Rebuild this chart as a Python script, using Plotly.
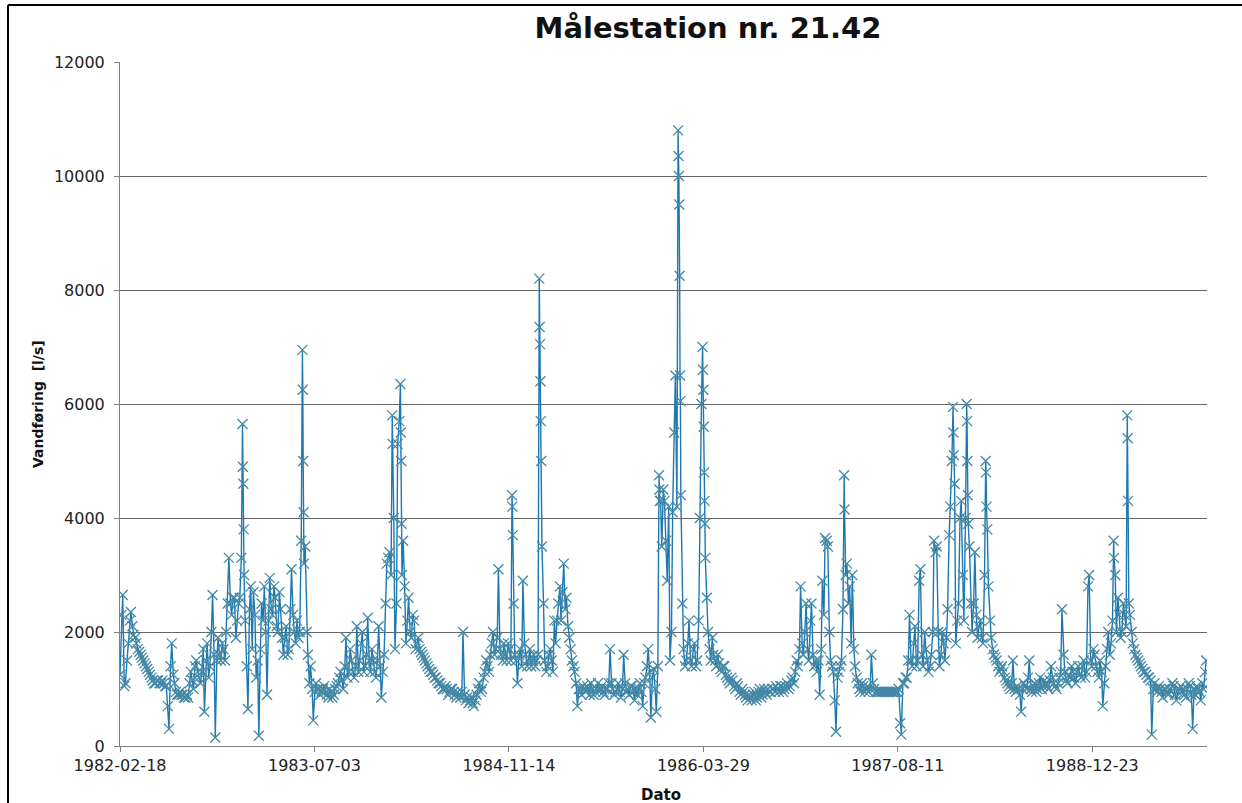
import pandas as pd
import plotly.graph_objects as go

START = "1982-02-18"
STEP_DAYS = 7
MID_OFFSET = 4

# weekly readings (l/s)
base_values = [
    1250, 2650, 1100, 1800, 2350, 1950, 1800, 1650, 1550, 1450,
    1350, 1250, 1150, 1100, 1150, 1100, 1100, 1050, 300, 1800,
    1100, 900, 950, 900, 850, 850, 1300, 1000, 1500, 1200,
    1300, 600, 1800, 1400, 2650, 150, 1900, 1500, 1700, 2000,
    3300, 2300, 2600, 2200, 2600, 5650, 2200, 650, 2800, 2700,
    1200, 180, 2500, 2800, 900, 2950, 2300, 2600, 2000, 2400,
    1600, 2100, 1700, 3100, 2000, 2200, 2000, 6950, 3500, 1600,
    1400, 450, 1100, 1000, 950, 1050, 900, 1000, 850, 1000,
    1100, 1300, 1000, 1900, 1300, 1500, 1200, 2100, 1500, 2000,
    1400, 2250, 1300, 1500, 1200, 2100, 850, 1600, 3200, 3400,
    5800, 1700, 5300, 6350, 3600, 1800, 2600, 1900, 2200, 1800,
    1700, 1600, 1500, 1400, 1300, 1250, 1200, 1100, 1050, 1000,
    1000, 950, 1000, 900, 950, 850, 2000, 800, 750, 850,
    700, 900, 1100, 1000, 1300, 1400, 1600, 2000, 1700, 3100,
    1600, 1800, 1500, 1700, 4400, 1600, 1100, 1700, 2900, 1600,
    1500, 1400, 1600, 1500, 8200, 3500, 1500, 1400, 1700, 1300,
    1800, 2500, 2200, 3200, 2600, 1900, 1500, 1300, 700, 1000,
    1050, 950, 1000, 1100, 900, 1000, 950, 1050, 900, 1000,
    1700, 1000, 950, 1100, 850, 1600, 950, 900, 1050, 800,
    900, 1100, 700, 1200, 1700, 500, 1350, 600, 4750, 3500,
    4300, 2900, 1500, 4100, 6500, 10800, 4400, 1700, 1500, 2200,
    1400, 1800, 1500, 4000, 7000, 3300, 2000, 1500, 1600, 1400,
    1450, 1300, 1400, 1200, 1100, 1150, 1000, 1050, 900, 950,
    850, 900, 800, 950, 850, 1000, 900, 950, 1000, 950,
    1000, 1050, 950, 1050, 1000, 1100, 1050, 1200, 1300, 1400,
    2800, 1600, 2500, 1500, 2500, 1400, 1300, 900, 2900, 3650,
    3500, 1500, 1300, 250, 1300, 1500, 4750, 3200, 2800, 3000,
    1400, 1100, 950, 1050, 1000, 950, 1600, 1000, 950, 950,
    950, 950, 950, 950, 950, 950, 1000, 200, 1100, 1200,
    2300, 1400, 2100, 1500, 3100, 1400, 1700, 1300, 1600, 3600,
    3500, 1400, 2000, 1500, 2400, 4200, 5950, 1800, 2500, 4300,
    2200, 6000, 3500, 2000, 3400, 1900, 2200, 1800, 5000, 2800,
    1900, 1600, 1500, 1300, 1400, 1200, 1100, 1000, 1500, 950,
    1000, 600, 1100, 1000, 1500, 950, 1100, 1000, 1200, 1050,
    1100, 1000, 1400, 1100, 1000, 1200, 2400, 1300, 1100, 1200,
    1300, 1100, 1400, 1200, 1500, 1300, 3000, 1400, 1600, 1300,
    1500, 700, 1400, 2000, 1800, 3600, 2000, 2300, 2000, 2300,
    5800, 2300, 1800, 1600, 1500, 1400, 1300, 1250, 1200, 200,
    1100, 950, 1000, 850, 1000, 900, 950, 1050, 800, 1000,
    950, 900, 1000, 1050, 300, 900, 1000, 800, 1000, 1500,
]

# mid-week readings (l/s), four days after each weekly reading
mid_values = [
    2300, 1050, 1500, 2200, 2100, 1900, 1700, 1600, 1500, 1400,
    1300, 1200, 1100, 1150, 1100, 1150, 1050, 700, 1400, 1250,
    950, 900, 900, 850, 900, 1100, 1150, 1400, 1300, 1100,
    1700, 1500, 1200, 2000, 1600, 1500, 1600, 1800, 1500, 2500,
    2500, 2600, 1900, 2500, 3300, 3000, 1400, 2400, 1700, 2300,
    1500, 1700, 2200, 2000, 2200, 2400, 2800, 2100, 2700, 1900,
    1900, 1600, 2400, 2300, 1800, 1900, 3600, 3200, 2000, 1100,
    1000, 950, 1000, 900, 1000, 950, 850, 950, 900, 1050,
    1200, 1150, 1400, 1200, 1700, 1300, 1400, 1300, 1800, 1300,
    1600, 1500, 1700, 1300, 1500, 1400, 1300, 2500, 3300, 3000,
    4000, 2500, 5700, 3000, 2800, 2200, 2000, 2300, 1700, 1900,
    1650, 1550, 1450, 1350, 1300, 1200, 1150, 1100, 1000, 1050,
    900, 1000, 950, 850, 900, 950, 900, 850, 800, 750,
    800, 1000, 950, 1200, 1500, 1300, 1800, 1600, 1900, 1700,
    1500, 1600, 1800, 1500, 2500, 1500, 1600, 1400, 1800, 1400,
    1700, 1500, 1400, 1600, 5700, 2500, 1300, 1600, 1500, 2200,
    2200, 2800, 2700, 2400, 2100, 1700, 1400, 1100, 1000, 900,
    1000, 1050, 900, 1000, 950, 1100, 1000, 950, 1000, 1100,
    1100, 900, 1000, 950, 1000, 1100, 1000, 1050, 950, 1000,
    1000, 950, 1100, 1400, 1300, 1200, 1000, 1400, 4300, 4500,
    3600, 4200, 2000, 5500, 4200, 8250, 2500, 1400, 1800, 1500,
    1700, 1400, 2200, 6000, 4800, 2600, 1700, 1900, 1500, 1600,
    1350, 1400, 1250, 1150, 1200, 1050, 1100, 950, 1000, 900,
    800, 850, 900, 800, 950, 850, 1000, 900, 950, 1000,
    950, 1000, 1050, 950, 1050, 1000, 1150, 1100, 1500, 1700,
    1800, 2000, 1700, 2200, 1600, 1500, 1500, 1700, 2300, 3600,
    2000, 1400, 800, 1200, 1400, 2400, 3000, 2500, 1800, 1700,
    1200, 1000, 1100, 950, 1050, 1000, 1100, 950, 950, 950,
    950, 950, 950, 950, 950, 950, 400, 1100, 1200, 1500,
    1500, 1800, 1400, 2900, 1600, 2000, 1500, 1400, 2000, 3400,
    2000, 1600, 1800, 1900, 3700, 5000, 4600, 2200, 4000, 3000,
    4000, 3900, 2500, 2500, 2300, 2100, 1900, 3000, 3800, 2200,
    1700, 1550, 1400, 1350, 1300, 1150, 1050, 1100, 1000, 1050,
    900, 1000, 1050, 1200, 1000, 1050, 950, 1100, 1000, 1150,
    1050, 1150, 1200, 1050, 1100, 1300, 1600, 1150, 1250, 1400,
    1200, 1300, 1250, 1400, 1200, 2800, 1500, 1700, 1400, 1200,
    1300, 1100, 1700, 1600, 2200, 3000, 2600, 1900, 2500, 2100,
    2500, 2000, 1700, 1550, 1450, 1350, 1300, 1200, 1150, 1000,
    1000, 1050, 950, 1000, 950, 1000, 1100, 900, 950, 1050,
    1000, 850, 1100, 900, 1000, 1050, 950, 1100, 1300,
]

# extra daily readings during floods (day offset from START, l/s)
extra_days = [316, 317, 318, 470, 471, 472, 701, 722, 723, 724, 1009, 1010,
              1079, 1080, 1081, 1083, 1387, 1388, 1436, 1437, 1438, 1440, 1441,
              1499, 1500, 1501, 1503, 1504, 1863, 2143, 2144,
              2178, 2179, 2180, 2227, 2228, 2556, 2591, 2592]
extra_values = [4900, 4600, 3800, 6250, 5000, 4100, 5300, 5500, 5000, 3900, 4200, 3700,
                7350, 7050, 6400, 5000, 4500, 4300, 10350, 10000, 9500, 6500, 6050,
                6600, 6250, 5600, 4300, 3900, 4150, 5500, 5100,
                5700, 5000, 4400, 4800, 4200, 3300, 5400, 4300]

tick_dates = ["1982-02-18", "1983-07-03", "1984-11-14", "1986-03-29", "1987-08-11", "1988-12-23"]
x_end = "1989-10-14"

base = pd.DataFrame({"day": [i * STEP_DAYS for i in range(len(base_values))], "q": base_values})
mid = pd.DataFrame({"day": [i * STEP_DAYS + MID_OFFSET for i in range(len(mid_values))], "q": mid_values})
extra = pd.DataFrame({"day": extra_days, "q": extra_values})
df = pd.concat([base, mid, extra]).sort_values("day", kind="stable").reset_index(drop=True)
df["date"] = pd.Timestamp(START) + pd.to_timedelta(df["day"], unit="D")

fig = go.Figure()
fig.add_trace(go.Scatter(
    x=df["date"], y=df["q"], mode="lines+markers",
    line=dict(color="#1d78b0", width=1.4),
    marker=dict(symbol="x-thin", size=10, line=dict(width=1.3, color="#4489a6")),
    showlegend=False,
))

L, R, T, B = 120, 35, 62, 57
W, H = 1242, 803
pw, ph = W - L - R, H - T - B

fig.update_layout(
    width=W, height=H,
    margin=dict(l=L, r=R, t=T, b=B),
    paper_bgcolor="white", plot_bgcolor="white",
    font=dict(family="DejaVu Sans", color="#222222"),
    title=dict(text="<b>Målestation nr. 21.42</b>", font=dict(size=29, color="#111111"),
               x=(708 - L) / pw, xref="paper", xanchor="center",
               y=1 - 28 / H, yref="container", yanchor="middle"),
    xaxis=dict(type="date", range=[START, x_end], tickvals=tick_dates, ticktext=tick_dates,
               ticks="outside", ticklen=5, tickcolor="#808080", showline=True,
               linecolor="#808080", linewidth=1, showgrid=False, zeroline=False,
               tickfont=dict(size=16, color="#222222")),
    yaxis=dict(range=[0, 12000], dtick=2000, tickformat="d", ticks="outside", ticklen=5,
               tickcolor="#808080", showline=True, linecolor="#808080", linewidth=1,
               showgrid=True, gridcolor="#666666", gridwidth=1, zeroline=False,
               tickfont=dict(size=16, color="#222222"), ticklabelstandoff=6),
    annotations=[
        dict(text="<b>Dato</b>", x=(661 - L) / pw, y=(746 - 795) / ph, xref="paper", yref="paper",
             showarrow=False, font=dict(size=15, color="#111111"), xanchor="center", yanchor="middle"),
        dict(text="<b>Vandføring  [l/s]</b>", x=(38 - L) / pw, y=0.5, xref="paper", yref="paper",
             showarrow=False, textangle=-90, font=dict(size=14, color="#111111"),
             xanchor="center", yanchor="middle"),
    ],
    shapes=[
        dict(type="line", xref="paper", yref="paper", x0=(8 - L) / pw, x1=(8 - L) / pw,
             y0=(T + ph - 5) / ph, y1=-(B + 10) / ph, line=dict(color="black", width=2)),
        dict(type="line", xref="paper", yref="paper", x0=(8 - L) / pw, x1=(W + 10 - L) / pw,
             y0=(T + ph - 5) / ph, y1=(T + ph - 5) / ph, line=dict(color="black", width=2)),
    ],
)

fig.write_html("out.html", config={"displayModeBar": False},
               post_script="document.body.style.margin='0';document.body.style.overflow='hidden';")
